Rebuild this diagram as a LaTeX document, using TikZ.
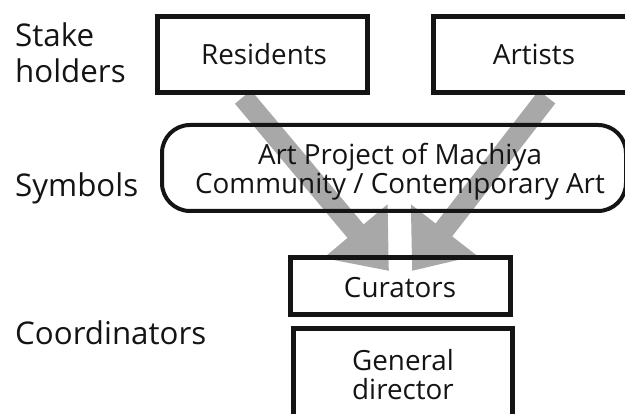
\documentclass[tikz,border=0pt]{standalone}
\usepackage{fontspec}
\setmainfont{Open Sans}
\usetikzlibrary{arrows.meta,positioning}
\definecolor{arrowgray}{RGB}{168,168,168}
\definecolor{ink}{RGB}{20,20,20}
\tikzset{
  box/.style={draw=ink, line width=5pt, rectangle, inner sep=0pt},
  inner/.style={font=\fontsize{27.8}{29}\selectfont, text=ink, inner sep=0pt, align=center},
  side/.style={font=\fontsize{31.3}{36}\selectfont, text=ink, inner sep=0pt, align=left, anchor=base west},
  bigarrow/.style={line width=21pt, arrowgray, -{Triangle[length=52pt, width=80pt]}}
}
\begin{document}
\begin{tikzpicture}[x=1pt, y=-1pt]
\useasboundingbox (0,0) rectangle (625,414);
% arrows (behind)
\coordinate (a1s) at (243,97);
\coordinate (a1e) at (389,271);
\coordinate (a2s) at (547,97);
\coordinate (a2e) at (412,271);
\draw[bigarrow] (a1s) -- (a1e);
\draw[bigarrow] (a2s) -- (a2e);
% boxes
\node[box, fill=white, minimum width=210pt, minimum height=76pt] (res) at (262.5,54.5) {};
\node[box, fill=white, minimum width=204pt, minimum height=76pt] (art) at (535.5,54.5) {};
\draw[draw=ink, line width=4pt, rounded corners=28pt] (162,125) rectangle (626,211);
\node[inner sep=0pt, minimum width=464pt, minimum height=86pt] (sym) at (394,168) {};
\node[box, minimum width=220pt, minimum height=57pt] (cur) at (400.5,286) {};
\node[box, minimum width=219pt, minimum height=105pt] (gd) at (403,381) {};
% texts
\node[inner, anchor=base] (rest) at (264,65) {Residents};
\node[inner, anchor=base] (artt) at (534,65) {Artists};
\node[inner] (symt) at (400,172) {Art Project of Machiya\\Community / Contemporary Art};
\node[inner, anchor=base] (curt) at (400,298) {Curators};
\node[inner] (gdt) at (403,375) {General\\director};
\node[side] (l1) at (15,83) {Stake\\holders};
\node[side] (l2) at (15,197) {Symbols};
\node[side] (l3) at (15,345) {Coordinators};
\end{tikzpicture}
\end{document}
